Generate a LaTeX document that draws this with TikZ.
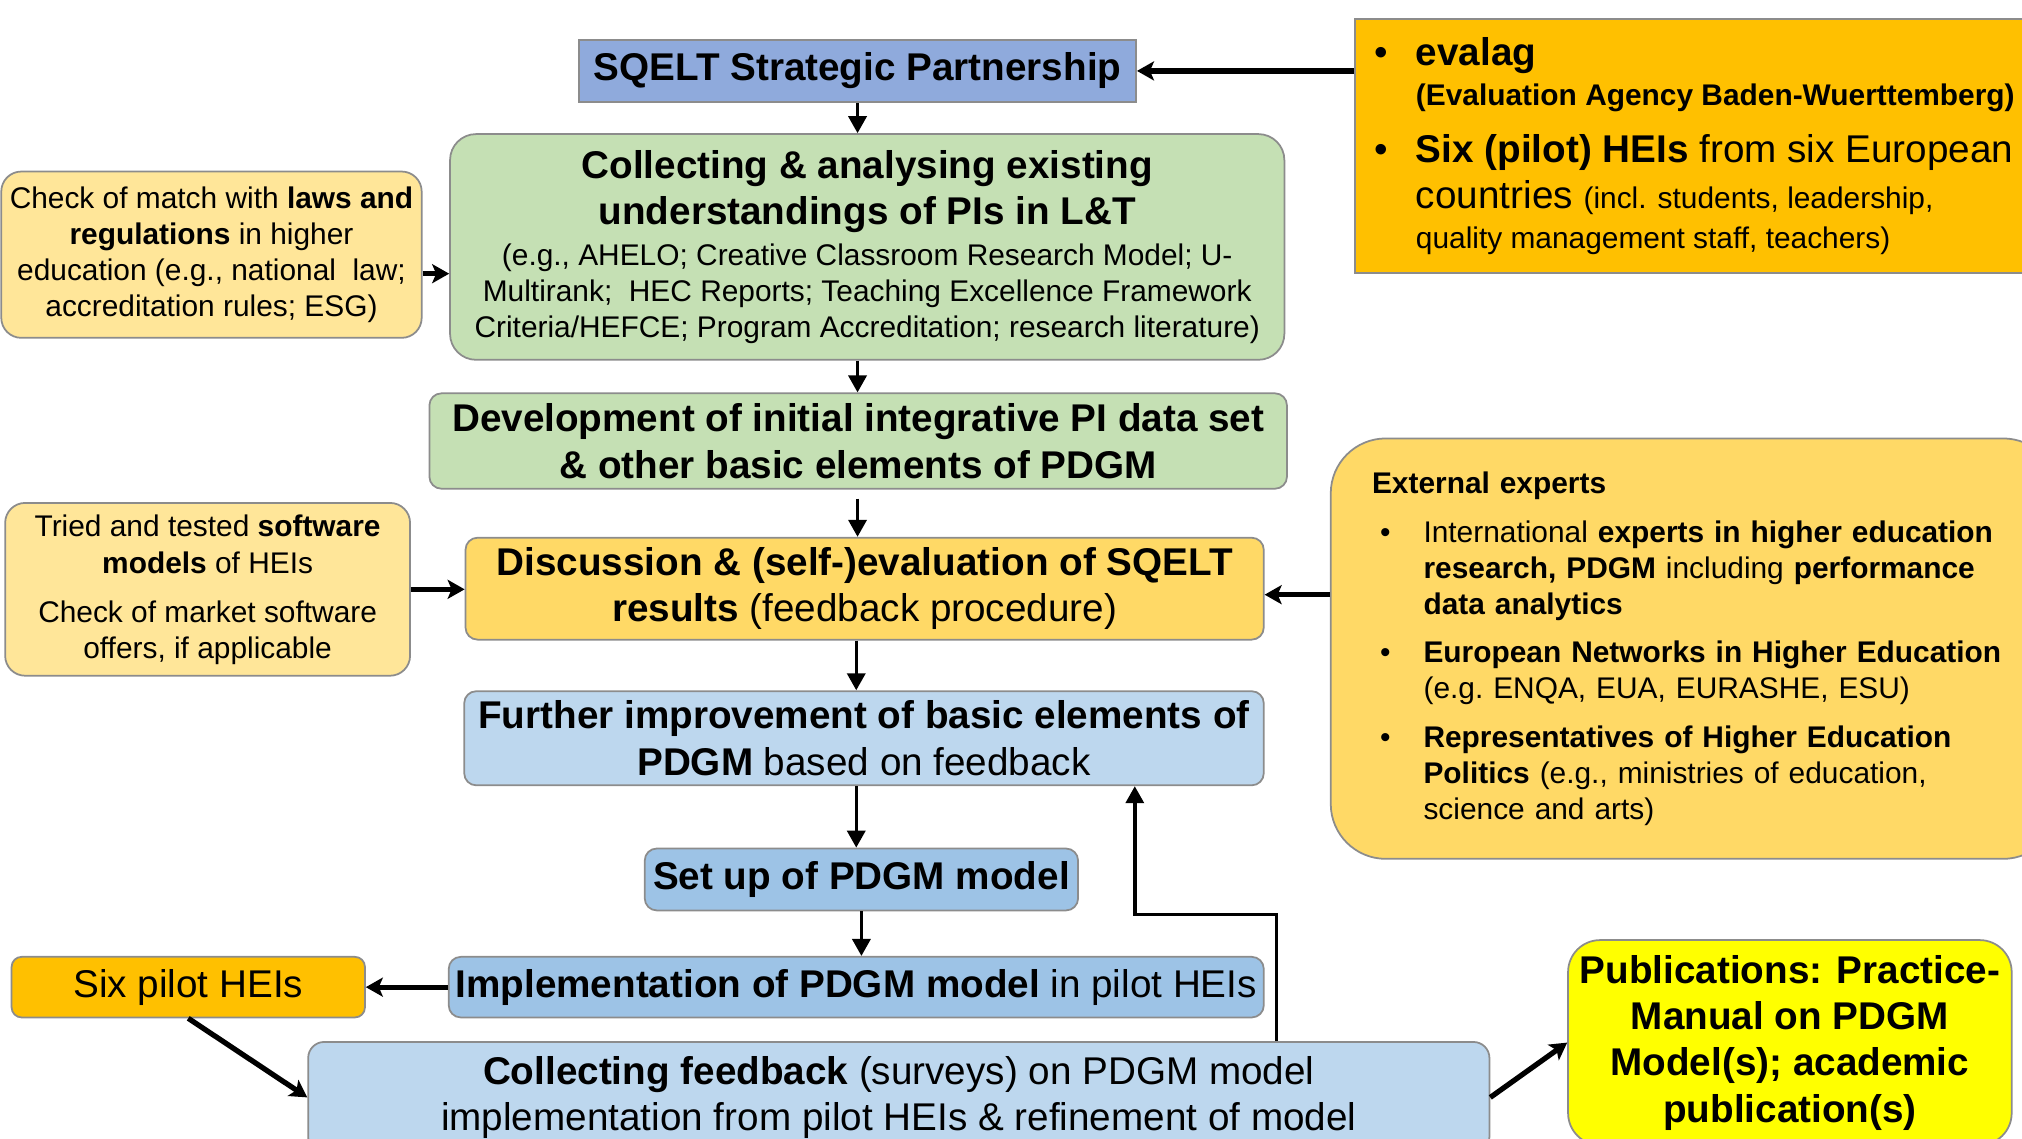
\documentclass[tikz,border=0pt]{standalone}
\usepackage{fontspec}
\setmainfont{Liberation Sans}
\usepackage{tikz}
\usetikzlibrary{arrows.meta}
\definecolor{sqeltblue}{HTML}{8FAADC}
\definecolor{partnerorange}{HTML}{FFC000}
\definecolor{collectgreen}{HTML}{C5E0B4}
\definecolor{inputyellow}{HTML}{FFE699}
\definecolor{discussgold}{HTML}{FFD966}
\definecolor{feedbackblue}{HTML}{BDD7EE}
\definecolor{modelblue}{HTML}{9DC3E6}
\definecolor{pubyellow}{HTML}{FFFF00}

\begin{document}
\begin{tikzpicture}[x=0.12895mm, y=-0.12895mm,
    box/.style={draw=black!45, line width=0.5pt, inner sep=1pt, align=center,
      font=\fontsize{11}{13.2}\selectfont},
    smallbox/.style={box, font=\fontsize{8.5}{10.2}\selectfont},
    boxsize/.style 2 args={minimum width=#1, minimum height=#2},
    flow/.style={-{Triangle[length=1.7mm, width=1.8mm]}, line width=1pt},
    feed/.style={-{Stealth[length=1.7mm, width=1.9mm, inset=0.4mm]}, line width=1.5pt}]
  \useasboundingbox (0,0) rectangle (1568,883);  %Rahmen

  \node[box, fill=sqeltblue, boxsize={55.71mm}{6.19mm}] (sqelt) at (665,55)
    {\bfseries SQELT Strategic Partnership};
  \node[box, fill=partnerorange, boxsize={70.92mm}{25.40mm}, text width=67.05mm,
    inner xsep=1.93mm, align=left] (partners) at (1326,113.5) {%
    \spaceskip=0pt\xspaceskip=0pt
    \makebox[4.13mm][l]{\textbullet}\textbf{evalag}\\[-1.8pt]
    \hspace*{4.13mm}{\fontsize{8.5}{10.2}\selectfont\bfseries (Evaluation Agency Baden-Wuerttemberg)}\\[2.9pt]
    \makebox[4.13mm][l]{\textbullet}\textbf{Six (pilot) HEIs} from six European\\
    \hspace*{4.13mm}countries {\fontsize{8.5}{10.2}\selectfont (incl. students, leadership,}\\[-1.8pt]
    \hspace*{4.13mm}{\fontsize{8.5}{10.2}\selectfont quality management staff, teachers)}};
  \node[box, fill=collectgreen, rounded corners=2.6mm, boxsize={83.43mm}{22.57mm}] (collect)
    at (672.5,191.5) {%
    \textbf{Collecting \& analysing existing}\\
    \textbf{understandings of PIs in L\&T}\\[-1.5pt]
    {\fontsize{8.5}{10.2}\selectfont (e.g., AHELO; Creative Classroom Research Model; U-}\\[-3pt]
    {\fontsize{8.5}{10.2}\selectfont Multirank;\ \ HEC Reports; Teaching Excellence Framework}\\[-3pt]
    {\fontsize{8.5}{10.2}\selectfont Criteria/HEFCE; Program Accreditation; research literature)}};
  \node[smallbox, fill=inputyellow, rounded corners=2mm, boxsize={42.04mm}{16.63mm}] (check)
    at (164,197.5) {%
    Check of match with \textbf{laws and}\\
    \textbf{regulations} in higher\\
    education (e.g., national\ \ law;\\
    accreditation rules; ESG)};
  \node[box, fill=collectgreen, rounded corners=1.2mm, boxsize={85.75mm}{9.54mm}] (devel)
    at (665.5,342) {\bfseries Development of initial integrative PI data set\\
    \bfseries \& other basic elements of PDGM};
  \node[box, fill=discussgold, rounded corners=1.2mm, boxsize={79.82mm}{10.19mm}] (discuss)
    at (670.5,456.5) {\textbf{Discussion \& (self-)evaluation of SQELT}\\
    \textbf{results} (feedback procedure)};
  \node[smallbox, fill=inputyellow, rounded corners=2mm, boxsize={40.49mm}{17.28mm}] (software)
    at (161,457) {%
    Tried and tested \textbf{software}\\[0.4pt]
    \textbf{models} of HEIs\\[3.7pt]
    Check of market software\\
    offers, if applicable};
  \node[smallbox, fill=discussgold, rounded corners=5.5mm, boxsize={72.73mm}{42.04mm},
    text width=64.48mm, inner xsep=4.13mm, align=left] (experts) at (1314,503) {%
    \frenchspacing
    \textbf{External experts}\\[3.7pt]
    \hspace*{0.8mm}\makebox[4.35mm][l]{\textbullet}International \textbf{experts in higher education}\\
    \hspace*{5.15mm}\textbf{research, PDGM} including \textbf{performance}\\
    \hspace*{5.15mm}\textbf{data analytics}\\[3.7pt]
    \hspace*{0.8mm}\makebox[4.35mm][l]{\textbullet}\textbf{European Networks in Higher Education}\\
    \hspace*{5.15mm}(e.g.\ ENQA, EUA, EURASHE, ESU)\\[3.7pt]
    \hspace*{0.8mm}\makebox[4.35mm][l]{\textbullet}\textbf{Representatives of Higher Education}\\
    \hspace*{5.15mm}\textbf{Politics} (e.g., ministries of education,\\
    \hspace*{5.15mm}science and arts)};
  \node[box, fill=feedbackblue, rounded corners=1.2mm, boxsize={79.95mm}{9.41mm}] (further)
    at (670,572.5) {\textbf{Further improvement of basic elements of}\\
    \textbf{PDGM} based on feedback};
  \node[box, fill=modelblue, rounded corners=1.2mm, boxsize={43.33mm}{6.19mm}] (setup)
    at (668,682) {\bfseries Set up of PDGM model};
  \node[box, fill=modelblue, rounded corners=1.2mm, boxsize={81.50mm}{6.06mm}] (impl)
    at (664,765.5) {\textbf{Implementation of PDGM model} in pilot HEIs};
  \node[box, fill=partnerorange, rounded corners=1mm, boxsize={35.33mm}{6.06mm}] (pilots)
    at (146,765.5) {Six pilot HEIs};
  \node[box, fill=feedbackblue, rounded corners=1.6mm, boxsize={118.12mm}{11.09mm}] (feedback)
    at (697,851) {\textbf{Collecting feedback} (surveys) on PDGM model\\
    implementation from pilot HEIs \& refinement of model};
  \node[box, fill=pubyellow, rounded corners=3.2mm, boxsize={44.36mm}{20.50mm}] (pubs)
    at (1388,808.5) {\bfseries Publications: Practice-\\
    \bfseries Manual on PDGM\\
    \bfseries Model(s); academic\\
    \bfseries publication(s)};

  %Hauptfluss
  \draw[flow] (sqelt.south) -- (sqelt.south |- collect.north);
  \draw[flow] (sqelt.south |- collect.south) -- (sqelt.south |- devel.north);
  \draw[flow, shorten <=0.9mm] (sqelt.south |- devel.south) -- (sqelt.south |- discuss.north);
  \draw[flow] (impl.north |- discuss.south) -- (impl.north |- further.north);
  \draw[flow] (impl.north |- further.south) -- (impl.north |- setup.north);
  \draw[flow] (setup.south) -- (setup.south |- impl.north);

  %Zulieferer
  \draw[feed] (partners.west |- sqelt.east) -- (sqelt.east);
  \draw[feed] ([yshift=-1.9mm]check.east) -- ([yshift=-1.9mm]check.east -| collect.west);
  \draw[feed] (software.east) -- (software.east -| discuss.west);
  \draw[feed] ([yshift=-0.6mm]experts.west |- discuss.east) -- ([yshift=-0.6mm]discuss.east);
  \draw[feed] (impl.west) -- (pilots.east);
  \draw[feed] (pilots.south) -- (feedback.west);
  \draw[feed] (feedback.east) -- (pubs.west);

  %Rueckkopplung
  \coordinate (loopa) at (990,709);
  \coordinate (loopb) at (880,709);
  \draw[flow] (loopa |- feedback.north) -- (loopa) -- (loopb) -- (loopb |- further.south);
\end{tikzpicture}
\end{document}
